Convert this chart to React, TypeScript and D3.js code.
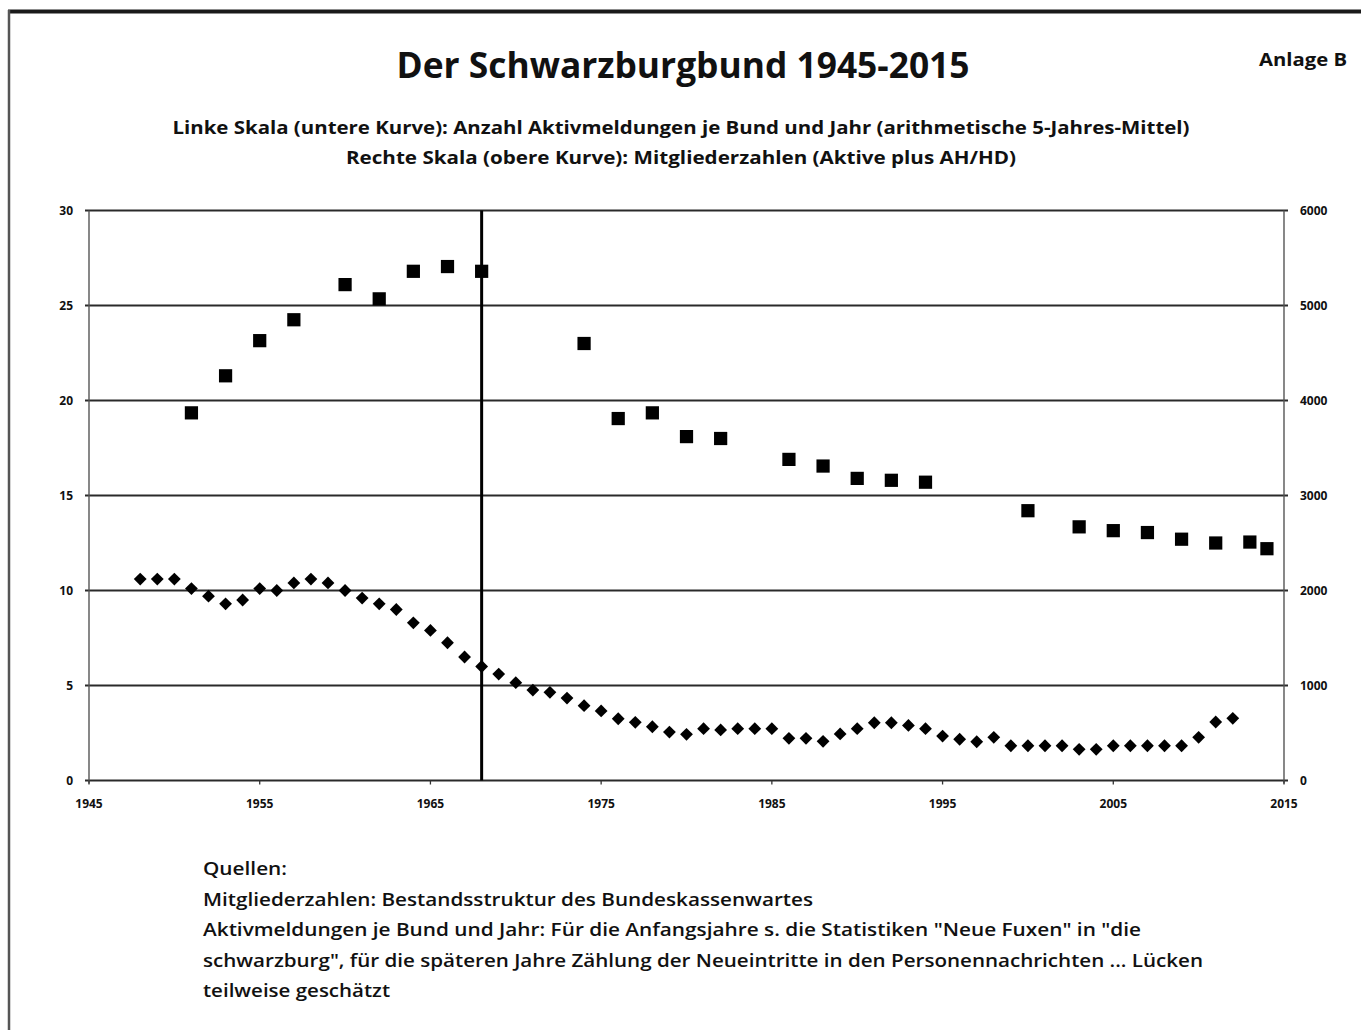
import React from "react";
import * as d3 from "d3";

const memberYears = [1951, 1953, 1955, 1957, 1960, 1962, 1964, 1966, 1968, 1974, 1976, 1978, 1980, 1982, 1986, 1988, 1990, 1992, 1994, 2000, 2003, 2005, 2007, 2009, 2011, 2013, 2014];
const memberValues = [3870, 4260, 4630, 4850, 5220, 5070, 5360, 5410, 5360, 4600, 3810, 3870, 3620, 3600, 3380, 3310, 3180, 3160, 3140, 2840, 2670, 2630, 2610, 2540, 2500, 2510, 2440];

const activeYears = [
  1948, 1949, 1950, 1951, 1952, 1953, 1954, 1955, 1956, 1957, 1958, 1959, 1960, 1961, 1962, 1963, 1964,
  1965, 1966, 1967, 1968, 1969, 1970, 1971, 1972, 1973, 1974, 1975, 1976, 1977, 1978, 1979, 1980, 1981,
  1982, 1983, 1984, 1985, 1986, 1987, 1988, 1989, 1990, 1991, 1992, 1993, 1994, 1995, 1996, 1997, 1998,
  1999, 2000, 2001, 2002, 2003, 2004, 2005, 2006, 2007, 2008, 2009, 2010, 2011, 2012,
];
const activeValues = [
  10.6, 10.6, 10.6, 10.1, 9.7, 9.3, 9.5, 10.1, 10.0, 10.4, 10.6, 10.4, 10.0, 9.6, 9.3, 9.0, 8.3,
  7.9, 7.25, 6.5, 6.0, 5.6, 5.15, 4.76, 4.64, 4.34, 3.94, 3.66, 3.25, 3.06, 2.83, 2.55, 2.43, 2.73,
  2.66, 2.73, 2.73, 2.73, 2.22, 2.22, 2.06, 2.45, 2.73, 3.04, 3.04, 2.9, 2.73, 2.34, 2.17, 2.04, 2.27,
  1.83, 1.83, 1.83, 1.83, 1.64, 1.64, 1.83, 1.83, 1.83, 1.83, 1.83, 2.27, 3.08, 3.27,
];

const markerYear = 1968;
const xTicks = [1945, 1955, 1965, 1975, 1985, 1995, 2005, 2015];
const leftTicks = [0, 5, 10, 15, 20, 25, 30];
const rightTicks = [0, 1000, 2000, 3000, 4000, 5000, 6000];

const title = "Der Schwarzburgbund 1945-2015";
const annex = "Anlage B";
const subtitles = [
  "Linke Skala (untere Kurve): Anzahl Aktivmeldungen je Bund und Jahr (arithmetische 5-Jahres-Mittel)",
  "Rechte Skala (obere Kurve): Mitgliederzahlen (Aktive plus AH/HD)",
];
const sources = [
  "Quellen:",
  "Mitgliederzahlen:  Bestandsstruktur des Bundeskassenwartes",
  "Aktivmeldungen je Bund und Jahr:  Für die Anfangsjahre s. die Statistiken \"Neue Fuxen\" in \"die",
  "schwarzburg\", für die späteren Jahre Zählung der Neueintritte in den Personennachrichten ... Lücken",
  "teilweise geschätzt",
];
const sourceWidths = [84, 610, 938, 1000, 187];

const FONT = "'Open Sans', 'Noto Sans', sans-serif";

export default function App() {
  const x = d3.scaleLinear().domain([1945, 2015]).range([89, 1284]);
  const yL = d3.scaleLinear().domain([0, 30]).range([780.5, 210.5]);
  const yR = d3.scaleLinear().domain([0, 6000]).range([780.5, 210.5]);
  const square = d3.symbol(d3.symbolSquare, 175)();
  const diamond = d3.symbol(d3.symbolSquare, 82)();
  const [x0, x1] = x.range();
  const yTop = yL(30);
  const yBot = yL(0);

  return (
    <svg
      width={1361}
      height={1030}
      style={{ position: "absolute", left: 0, top: 0, background: "#fff" }}
      fontFamily={FONT}
    >
      <rect x={0} y={0} width={1361} height={1030} fill="#fff" />
      {/* scan frame */}
      <line x1={8} x2={1361} y1={11.5} y2={11.5} stroke="#1a1a1a" strokeWidth={4} />
      <line x1={9} x2={9} y1={10} y2={1030} stroke="#555" strokeWidth={2.5} />

      {/* titles */}
      <text x={683} y={78} textAnchor="middle" fontSize={36} fontWeight={700} fill="#111"
        textLength={573} lengthAdjust="spacingAndGlyphs">{title}</text>
      <text x={1303} y={66} textAnchor="middle" fontSize={17} fontWeight={700} fill="#111"
        textLength={88} lengthAdjust="spacingAndGlyphs">{annex}</text>
      <text x={681} y={134} textAnchor="middle" fontSize={17} fontWeight={700} fill="#111"
        textLength={1017} lengthAdjust="spacingAndGlyphs">{subtitles[0]}</text>
      <text x={681} y={164} textAnchor="middle" fontSize={17} fontWeight={700} fill="#111"
        textLength={670} lengthAdjust="spacingAndGlyphs">{subtitles[1]}</text>

      {/* gridlines */}
      {leftTicks.map((t) => (
        <line key={"g" + t} x1={x0 - 4} x2={x1 + 4} y1={yL(t)} y2={yL(t)} stroke="#2a2a2a" strokeWidth={1.8} />
      ))}
      {/* axes */}
      <line x1={x0} x2={x0} y1={yTop} y2={yBot + 3} stroke="#555" strokeWidth={1.4} />
      <line x1={x1} x2={x1} y1={yTop} y2={yBot + 3} stroke="#555" strokeWidth={1.4} />
      {xTicks.map((t) => (
        <line key={"xt" + t} x1={x(t)} x2={x(t)} y1={yBot} y2={yBot + 4} stroke="#333" strokeWidth={1.3} />
      ))}

      {/* tick labels */}
      {leftTicks.map((t) => (
        <text key={"l" + t} x={73} y={yL(t) + 4} textAnchor="end" fontSize={12} fontWeight={700} fill="#111">{t}</text>
      ))}
      {rightTicks.map((t) => (
        <text key={"r" + t} x={1300} y={yR(t) + 4} textAnchor="start" fontSize={12} fontWeight={700} fill="#111">{t}</text>
      ))}
      {xTicks.map((t) => (
        <text key={"x" + t} x={x(t)} y={808} textAnchor="middle" fontSize={12} fontWeight={700} fill="#111">{t}</text>
      ))}

      {/* member squares (right scale) */}
      {memberYears.map((yr, i) => (
        <path key={"m" + yr} d={square!} transform={`translate(${x(yr)},${yR(memberValues[i])})`} fill="#000" />
      ))}

      {/* active diamonds (left scale) */}
      {activeYears.map((yr, i) => (
        <path key={"a" + yr} d={diamond!} transform={`translate(${x(yr)},${yL(activeValues[i])}) rotate(45)`} fill="#000" />
      ))}

      {/* marker line */}
      <line x1={x(markerYear)} x2={x(markerYear)} y1={yTop} y2={yBot} stroke="#000" strokeWidth={3} />

      {/* sources */}
      {sources.map((s, i) => (
        <text key={"s" + i} x={203} y={875 + i * 30.5} fontSize={18} fontWeight={600} fill="#111"
          textLength={sourceWidths[i]} lengthAdjust="spacingAndGlyphs">{s}</text>
      ))}
    </svg>
  );
}
